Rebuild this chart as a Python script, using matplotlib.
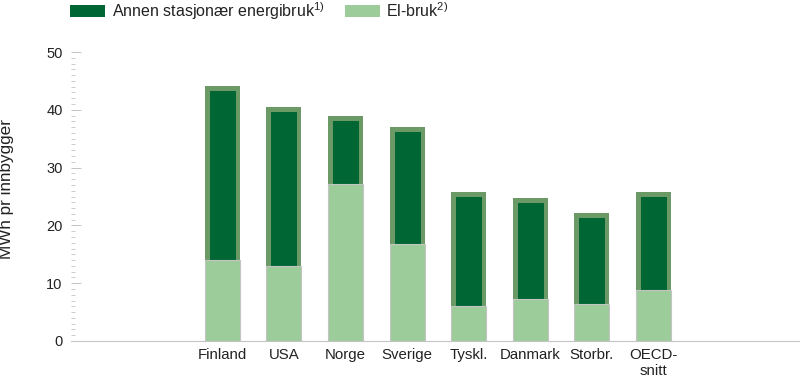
import matplotlib
matplotlib.use("Agg")
import matplotlib.pyplot as plt
from matplotlib.patches import Patch
from matplotlib.ticker import MultipleLocator

plt.rcParams["font.family"] = ["Liberation Sans", "DejaVu Sans"]
plt.rcParams["mathtext.fontset"] = "custom"
plt.rcParams["mathtext.rm"] = "Liberation Sans"
plt.rcParams["mathtext.it"] = "Liberation Sans"

countries = ["Finland", "USA", "Norge", "Sverige", "Tyskl.", "Danmark", "Storbr.", "OECD-\nsnitt"]
el_bruk = [14.1, 13.0, 27.2, 16.8, 6.1, 7.2, 6.4, 8.8]
annen = [30.0, 27.4, 11.8, 20.3, 19.6, 17.5, 15.7, 17.0]

dark = "#006633"
dark_edge = "#6b9a66"
light = "#9ccc99"
grey = "#c4c4c4"
txt = "#222222"

fig = plt.figure(figsize=(8, 3.77), dpi=100)
ax = fig.add_axes([71 / 800, 36 / 377, 729 / 800, 289 / 377])

x = list(range(len(countries)))
totals = [e + a for e, a in zip(el_bruk, annen)]
w = 0.567

# upper segment: full bar from zero, border drawn inside only (clipped to itself)
top = ax.bar(x, totals, width=w, color=dark, edgecolor=dark_edge, linewidth=6.5, zorder=2)
for p in top:
    p.set_clip_path(p)
low = ax.bar(x, el_bruk, width=w, color=light, edgecolor=grey, linewidth=0.8, zorder=3)

ax.set_xlim(-2.457, 9.38)
ax.set_ylim(0, 50)
ax.yaxis.set_major_locator(MultipleLocator(10))
ax.yaxis.set_minor_locator(MultipleLocator(1))
ax.tick_params(axis="y", which="major", direction="in", length=7.2, width=0.7,
               color=grey, labelsize=10.5, labelcolor=txt, pad=6)
ax.tick_params(axis="y", which="minor", direction="in", length=2.9, width=0.6, color=grey)
ax.set_xticks(x)
ax.set_xticklabels(countries, fontsize=10.8, color=txt, linespacing=1.15)
ax.tick_params(axis="x", length=0, pad=5)

for s in ["top", "right", "left"]:
    ax.spines[s].set_visible(False)
ax.spines["bottom"].set_color(grey)
ax.spines["bottom"].set_linewidth(0.8)

fig.text(7 / 800, 1 - 189 / 377, "MWh pr innbygger", rotation=90, ha="center", va="center",
         fontsize=12.3, color=txt)

handles = [Patch(facecolor=dark), Patch(facecolor=light)]
labels = ["Annen stasjonær energibruk$^{1)}$", "El-bruk$^{2)}$"]
fig.legend(handles, labels, loc="upper left", bbox_to_anchor=(70 / 800, 1.0), ncol=2,
           frameon=False, fontsize=11.5, borderpad=0, borderaxespad=0,
           handlelength=2.2, handleheight=0.72, handletextpad=0.4, columnspacing=1.3,
           labelcolor=txt)

fig.savefig("out.png", dpi=100)
